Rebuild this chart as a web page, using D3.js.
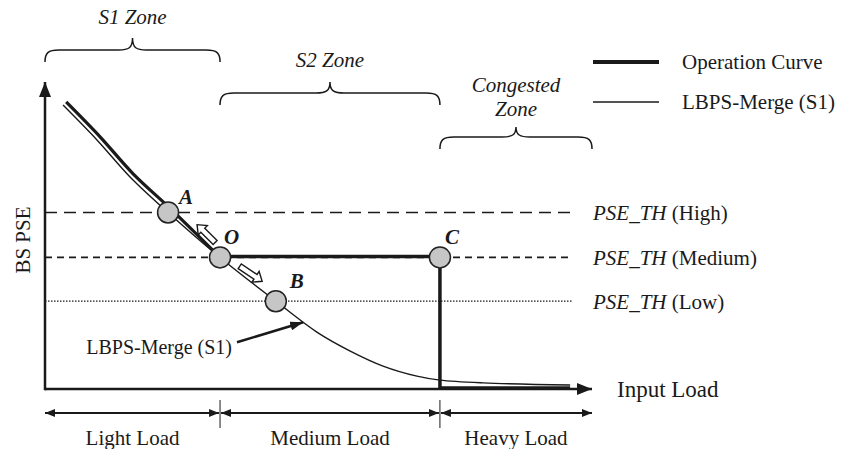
<!DOCTYPE html>
<html>
<head>
<meta charset="utf-8">
<script src="https://cdn.jsdelivr.net/npm/d3@7"></script>
<style>
  body { margin: 0; background: #fff; }
</style>
</head>
<body>
<div id="chart"></div>
<script>
// schematic: BS PSE vs input load
const zoneNames = ["S1 Zone", "S2 Zone", "Congested|Zone"];
const loadNames = ["Light Load", "Medium Load", "Heavy Load"];
const zoneBounds = [0, 32, 72.2, 100];

const thresholdNames = ["High", "Medium", "Low"];
const thresholdValues = [57.7, 43, 28.7];

// LBPS-Merge (S1) curve
const curveLoad = [3.3, 9.5, 15.5, 22.5, 32.0, 42.2, 49.7, 55.8, 61.8, 68.0, 72.2, 80.1, 96.0];
const curvePSE  = [92.8, 81.4, 69.4, 57.7, 43.0, 28.7, 18.6, 12.4, 7.5, 4.2, 2.9, 2.0, 1.3];

// operation curve: follows S1 until O, then flat to C, then drops
const opCurveLoad = [3.3, 9.5, 15.5, 22.5, 32.0];
const opCurvePSE  = [92.8, 81.4, 69.4, 57.7, 43.0];
const opStepLoad = [32.0, 72.2, 72.2, 96.0];
const opStepPSE  = [43.0, 43.0, 0, 0];

const pointNames = ["A", "O", "B", "C"];
const pointLoad = [22.5, 32.0, 42.2, 72.2];
const pointPSE  = [57.7, 43.0, 28.7, 43.0];

// hollow arrows near O (tail -> tip)
const moveArrows = [
  {from: [31.1, 47.9], to: [27.8, 53.7]},
  {from: [35.6, 40.1], to: [39.7, 35.2]}
];

const width = 844, height = 449;
const svg = d3.select("#chart").append("svg")
    .attr("width", width).attr("height", height)
    .attr("font-family", "'Liberation Serif', 'Times New Roman', Times, 'DejaVu Serif', serif")
    .attr("fill", "#1a1a1a");

const x = d3.scaleLinear().domain([0, 100]).range([45, 592]);
const y = d3.scaleLinear().domain([0, 100]).range([389, 83]);

const defs = svg.append("defs");
function addArrow(id, len, wid) {
  defs.append("marker")
      .attr("id", id)
      .attr("markerUnits", "userSpaceOnUse")
      .attr("viewBox", `0 ${-wid/2} ${len} ${wid}`)
      .attr("refX", len).attr("refY", 0)
      .attr("markerWidth", len).attr("markerHeight", wid)
      .attr("orient", "auto-start-reverse")
    .append("path")
      .attr("d", `M0,${-wid/2}L${len},0L0,${wid/2}Z`)
      .attr("fill", "#1a1a1a");
}
addArrow("axisHead", 15, 12);
addArrow("smallHead", 10, 8);
addArrow("noteHead", 13, 9);

// thresholds
const dashes = ["12,7", "7,5", "1.5,1.5"];
thresholdValues.forEach((v, i) => {
  svg.append("line")
      .attr("x1", x(0)).attr("x2", x(96.5))
      .attr("y1", y(v)).attr("y2", y(v))
      .attr("stroke", "#1a1a1a")
      .attr("stroke-width", i == 2 ? 1.3 : 1.6)
      .attr("stroke-dasharray", dashes[i]);
  const t = svg.append("text")
      .attr("x", 593).attr("y", y(v) + 8)
      .attr("font-size", 21);
  t.append("tspan").attr("font-style", "italic").text("PSE_TH");
  t.append("tspan").text(" (" + thresholdNames[i] + ")");
});

// axes
svg.append("line")
    .attr("x1", x(0)).attr("x2", x(100))
    .attr("y1", y(0)).attr("y2", y(0))
    .attr("stroke", "#1a1a1a").attr("stroke-width", 2.5)
    .attr("marker-end", "url(#axisHead)");
svg.append("line")
    .attr("x1", x(0)).attr("x2", x(0))
    .attr("y1", y(0) + 1.2).attr("y2", y(100) - 1)
    .attr("stroke", "#1a1a1a").attr("stroke-width", 2.5)
    .attr("marker-end", "url(#axisHead)");

svg.append("text")
    .attr("x", 617).attr("y", y(0) + 8)
    .attr("font-size", 23)
    .text("Input Load");
svg.append("text")
    .attr("transform", `translate(30,${y(50) + 4}) rotate(-90)`)
    .attr("text-anchor", "middle")
    .attr("font-size", 21)
    .text("BS PSE");

// curves
const curveData = curveLoad.map((d, i) => ({load: d, pse: curvePSE[i]}));
const thin = d3.line()
    .x(d => x(d.load)).y(d => y(d.pse))
    .curve(d3.curveCatmullRom);
svg.append("path")
    .attr("d", thin(curveData))
    .attr("fill", "none").attr("stroke", "#1a1a1a").attr("stroke-width", 1.4);

const off = 3.1;
const opCurve = opCurveLoad.map((d, i) => ({load: d, pse: opCurvePSE[i]}));
const thick = d3.line()
    .x((d, i) => x(d.load) + (i < opCurve.length - 1 ? off : 0))
    .y((d, i) => y(d.pse) - (i < opCurve.length - 1 ? off : 0))
    .curve(d3.curveCatmullRom);
svg.append("path")
    .attr("d", thick(opCurve))
    .attr("fill", "none").attr("stroke", "#1a1a1a").attr("stroke-width", 3.2);

const opStep = opStepLoad.map((d, i) => ({load: d, pse: opStepPSE[i]}));
svg.append("path")
    .attr("d", d3.line().x(d => x(d.load)).y(d => y(d.pse) - 1)(opStep))
    .attr("fill", "none").attr("stroke", "#1a1a1a").attr("stroke-width", 3.5);

// hollow arrows
moveArrows.forEach(a => {
  const p0 = [x(a.from[0]), y(a.from[1])], p1 = [x(a.to[0]), y(a.to[1])];
  const dx = p1[0] - p0[0], dy = p1[1] - p0[1], L = Math.hypot(dx, dy);
  const u = [dx / L, dy / L], n = [-u[1], u[0]];
  const hw = 2.8, HW = 6.5, hl = 8;
  const neck = [p1[0] - u[0] * hl, p1[1] - u[1] * hl];
  const pts = [
    [p0[0] + n[0] * hw, p0[1] + n[1] * hw],
    [neck[0] + n[0] * hw, neck[1] + n[1] * hw],
    [neck[0] + n[0] * HW, neck[1] + n[1] * HW],
    p1,
    [neck[0] - n[0] * HW, neck[1] - n[1] * HW],
    [neck[0] - n[0] * hw, neck[1] - n[1] * hw],
    [p0[0] - n[0] * hw, p0[1] - n[1] * hw]
  ];
  svg.append("polygon")
      .attr("points", pts.map(p => p.join(",")).join(" "))
      .attr("fill", "#fff").attr("stroke", "#1a1a1a").attr("stroke-width", 1.4);
});

// points
const labelOff = [[11, -8], [4, -13], [14, -13], [5, -13]];
pointNames.forEach((name, i) => {
  svg.append("circle")
      .attr("cx", x(pointLoad[i])).attr("cy", y(pointPSE[i]))
      .attr("r", 10.5)
      .attr("fill", "#c6c6c6").attr("stroke", "#222").attr("stroke-width", 1.5);
  svg.append("text")
      .attr("x", x(pointLoad[i]) + labelOff[i][0])
      .attr("y", y(pointPSE[i]) + labelOff[i][1])
      .attr("font-size", 21).attr("font-weight", "bold").attr("font-style", "italic")
      .text(name);
});

// annotation on curve
const noteTail = [35.1, 15.3], noteTip = [47.2, 21.8];
svg.append("line")
    .attr("x1", x(noteTail[0])).attr("y1", y(noteTail[1]))
    .attr("x2", x(noteTip[0])).attr("y2", y(noteTip[1]))
    .attr("stroke", "#1a1a1a").attr("stroke-width", 2.5)
    .attr("marker-end", "url(#noteHead)");
svg.append("text")
    .attr("x", x(noteTail[0]) - 5).attr("y", y(noteTail[1]) + 12)
    .attr("text-anchor", "end")
    .attr("font-size", 20)
    .text("LBPS-Merge (S1)");

// braces over zones
const braceY = [[38, 50, 62], [82, 93, 105], [127, 137, 149]];
const zoneTextY = [[24], [67], [92, 116]];
function brace(x1, x2, yt, ym, ye) {
  const xm = (x1 + x2) / 2, r = 14;
  return `M${x1},${ye}C${x1},${ym + 3} ${x1 + 3},${ym} ${x1 + r},${ym}` +
    `L${xm - r},${ym}C${xm - 4},${ym} ${xm},${ym - 2} ${xm},${yt}` +
    `C${xm},${ym - 2} ${xm + 4},${ym} ${xm + r},${ym}` +
    `L${x2 - r},${ym}C${x2 - 3},${ym} ${x2},${ym + 3} ${x2},${ye}`;
}
zoneNames.forEach((name, i) => {
  const x1 = x(zoneBounds[i]), x2 = x(zoneBounds[i + 1]);
  svg.append("path")
      .attr("d", brace(x1, x2, ...braceY[i]))
      .attr("fill", "none").attr("stroke", "#1a1a1a").attr("stroke-width", 1.5);
  name.split("|").forEach((part, j) => {
    svg.append("text")
        .attr("x", (x1 + x2) / 2).attr("y", zoneTextY[i][j])
        .attr("text-anchor", "middle")
        .attr("font-size", 21).attr("font-style", "italic")
        .text(part);
  });
});

// load ranges below axis
const rangeY = 413;
loadNames.forEach((name, i) => {
  const x1 = x(zoneBounds[i]), x2 = x(zoneBounds[i + 1]);
  svg.append("line")
      .attr("x1", x1 + (i ? 1 : 0)).attr("x2", x2 - (i < 2 ? 1 : 0))
      .attr("y1", rangeY).attr("y2", rangeY)
      .attr("stroke", "#1a1a1a").attr("stroke-width", 2)
      .attr("marker-start", "url(#smallHead)")
      .attr("marker-end", "url(#smallHead)");
  svg.append("text")
      .attr("x", (x1 + x2) / 2).attr("y", 445)
      .attr("text-anchor", "middle")
      .attr("font-size", 21)
      .text(name);
});
zoneBounds.slice(1, 3).forEach(b => {
  svg.append("line")
      .attr("x1", x(b)).attr("x2", x(b))
      .attr("y1", 400).attr("y2", 428)
      .attr("stroke", "#1a1a1a").attr("stroke-width", 1);
});

// legend
const legendNames = ["Operation Curve", "LBPS-Merge (S1)"];
const legendWidths = [4.2, 1.6];
legendNames.forEach((name, i) => {
  const ly = 62 + i * 40;
  svg.append("line")
      .attr("x1", 593).attr("x2", 659)
      .attr("y1", ly).attr("y2", ly)
      .attr("stroke", "#1a1a1a").attr("stroke-width", legendWidths[i]);
  svg.append("text")
      .attr("x", 682).attr("y", ly + 7)
      .attr("font-size", 21)
      .text(name);
});
</script>
</body>
</html>
